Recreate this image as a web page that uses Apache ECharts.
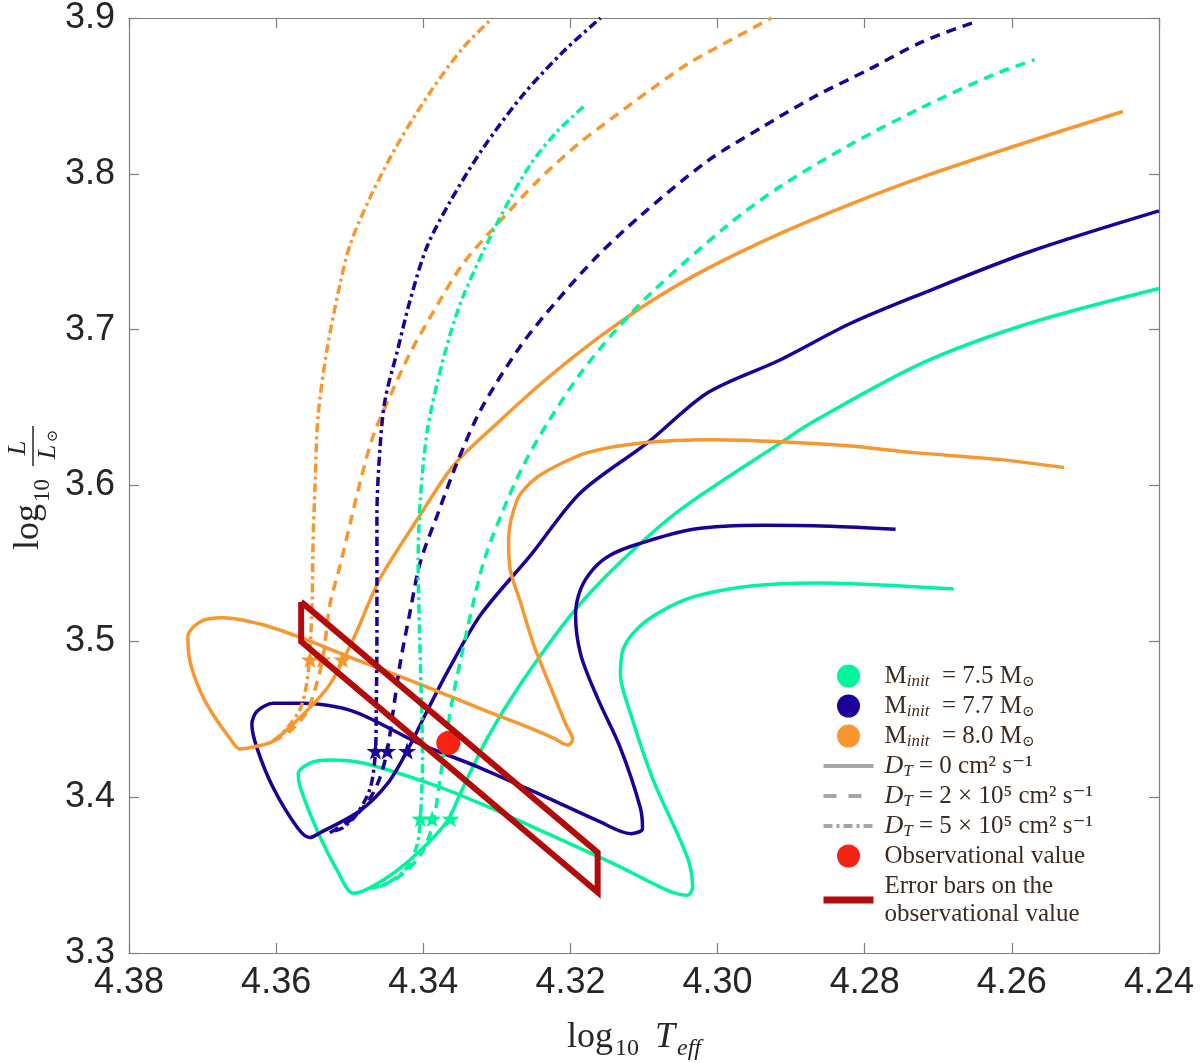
<!DOCTYPE html>
<html>
<head>
<meta charset="utf-8">
<script src="https://cdn.jsdelivr.net/npm/echarts/dist/echarts.min.js"></script>
<style>
html, body { margin: 0; padding: 0; background: #fff; }
#chart { width: 1200px; height: 1063px; }
</style>
</head>
<body>
<div id="chart"></div>
<script>
// tracks: [log10 Teff, log10 L/Lsun]
var g_dt0 = [[4.2679,3.5336],[4.2778,3.5362],[4.2864,3.5375],[4.2955,3.5355],[4.3033,3.5285],[4.3078,3.5189],
  [4.3109,3.5081],[4.3128,3.4953],[4.3132,3.4787],[4.3118,3.4532],[4.3087,3.4104],[4.3041,3.3613],[4.3034,3.3421],
  [4.3041,3.3370],[4.3068,3.3402],[4.3142,3.3575],[4.3231,3.3766],[4.3322,3.3958],[4.3390,3.4085],[4.3482,3.4219],
  [4.3527,3.4238],[4.3554,3.4219],[4.3570,3.4149],[4.3567,3.4060],[4.3544,3.3785],[4.3517,3.3530],[4.3495,3.3383],
  [4.3449,3.3485],[4.3404,3.3658],[4.3367,3.3849],[4.3350,3.4021],[4.3313,3.4379],[4.3268,3.4724],[4.3196,3.5189],
  [4.3132,3.5509],[4.3050,3.5847],[4.2914,3.6275],[4.2868,3.6415],[4.2722,3.6785],[4.2576,3.7041],[4.2400,3.7264]];
var g_dt2 = [[4.3459,3.3428],[4.3441,3.3466],[4.3422,3.3530],[4.3400,3.3658],[4.3386,3.3849],[4.3377,3.4124],
  [4.3367,3.4443],[4.3359,3.4660],[4.3340,3.5081],[4.3318,3.5509],[4.3291,3.5847],[4.3264,3.6128],[4.3231,3.6402],
  [4.3186,3.6721],[4.3142,3.6977],[4.3091,3.7232],[4.2989,3.7660],[4.2916,3.7915],[4.2819,3.8189],[4.2722,3.8426],
  [4.2625,3.8636],[4.2569,3.8732]];
var g_dt5 = [[4.3472,3.3415],[4.3449,3.3447],[4.3422,3.3549],[4.3408,3.3702],[4.3404,3.3862],[4.3401,3.4232],
  [4.3404,3.4870],[4.3407,3.5509],[4.3404,3.5911],[4.3395,3.6338],[4.3381,3.6658],[4.3363,3.6977],[4.3346,3.7213],
  [4.3318,3.7506],[4.3291,3.7762],[4.3254,3.8062],[4.3218,3.8272],[4.3182,3.8432]];

var b_dt0 = [[4.2758,3.5719],[4.2846,3.5738],[4.2937,3.5745],[4.3033,3.5719],[4.3109,3.5623],[4.3146,3.5553],
  [4.3169,3.5464],[4.3186,3.5336],[4.3193,3.5170],[4.3186,3.4915],[4.3163,3.4634],[4.3132,3.4315],[4.3105,3.3932],
  [4.3102,3.3798],[4.3118,3.3766],[4.3163,3.3849],[4.3231,3.3996],[4.3322,3.4187],[4.3404,3.4341],[4.3495,3.4551],
  [4.3563,3.4602],[4.3604,3.4602],[4.3626,3.4551],[4.3633,3.4468],[4.3626,3.4315],[4.3604,3.4060],[4.3571,3.3804],
  [4.3554,3.3741],[4.3540,3.3772],[4.3486,3.3913],[4.3449,3.4085],[4.3422,3.4296],[4.3395,3.4551],[4.3367,3.4806],
  [4.3322,3.5170],[4.3254,3.5553],[4.3186,3.5955],[4.3095,3.6275],[4.3014,3.6594],[4.2916,3.6804],[4.2819,3.7041],
  [4.2722,3.7232],[4.2576,3.7500],[4.2400,3.7762]];
var b_dt2 = [[4.3527,3.3772],[4.3495,3.3868],[4.3472,3.3996],[4.3459,3.4124],[4.3449,3.4296],[4.3441,3.4551],
  [4.3431,3.4870],[4.3418,3.5189],[4.3404,3.5509],[4.3381,3.5809],[4.3354,3.6147],[4.3322,3.6485],[4.3268,3.6894],
  [4.3218,3.7187],[4.3163,3.7474],[4.3105,3.7730],[4.3014,3.8081],[4.2940,3.8298],[4.2868,3.8496],[4.2795,3.8668],
  [4.2722,3.8847],[4.2654,3.8968]];
var b_dt5 = [[4.3520,3.3785],[4.3509,3.3804],[4.3490,3.3894],[4.3472,3.4060],[4.3465,3.4296],[4.3464,3.4532],
  [4.3463,3.5062],[4.3463,3.5381],[4.3463,3.5809],[4.3459,3.6230],[4.3452,3.6549],[4.3435,3.6868],[4.3418,3.7187],
  [4.3395,3.7532],[4.3363,3.7826],[4.3318,3.8170],[4.3264,3.8509],[4.3210,3.8783],[4.3159,3.9000]];

var o_dt0 = [[4.2529,3.6115],[4.2615,3.6166],[4.2733,3.6211],[4.2823,3.6255],[4.2914,3.6281],[4.3005,3.6294],
  [4.3101,3.6275],[4.3177,3.6211],[4.3231,3.6096],[4.3254,3.6019],[4.3272,3.5911],[4.3284,3.5655],[4.3282,3.5464],
  [4.3268,3.5253],[4.3250,3.4979],[4.3223,3.4660],[4.3205,3.4455],[4.3197,3.4372],[4.3203,3.4334],[4.3223,3.4379],
  [4.3268,3.4468],[4.3313,3.4551],[4.3404,3.4724],[4.3495,3.4889],[4.3563,3.5017],[4.3618,3.5106],[4.3672,3.5151],
  [4.3703,3.5126],[4.3720,3.5030],[4.3717,3.4870],[4.3703,3.4679],[4.3686,3.4532],[4.3665,3.4392],[4.3649,3.4309],
  [4.3625,3.4328],[4.3604,3.4360],[4.3563,3.4532],[4.3527,3.4724],[4.3495,3.5017],[4.3459,3.5400],[4.3408,3.5783],
  [4.3359,3.6128],[4.3299,3.6402],[4.3231,3.6690],[4.3159,3.6958],[4.3091,3.7181],[4.3014,3.7392],[4.2916,3.7615],
  [4.2819,3.7806],[4.2722,3.7979],[4.2576,3.8209],[4.2449,3.8400]];
var o_dt2 = [[4.3604,3.4360],[4.3581,3.4424],[4.3558,3.4551],[4.3544,3.4743],[4.3536,3.4902],[4.3527,3.5234],
  [4.3513,3.5489],[4.3499,3.5764],[4.3486,3.6019],[4.3468,3.6319],[4.3445,3.6575],[4.3418,3.6849],[4.3390,3.7085],
  [4.3346,3.7423],[4.3299,3.7679],[4.3245,3.7953],[4.3190,3.8189],[4.3142,3.8362],[4.3091,3.8540],[4.3038,3.8713],
  [4.2974,3.8879],[4.2927,3.9000]];
var o_dt5 = [[4.3604,3.4360],[4.3585,3.4443],[4.3567,3.4570],[4.3558,3.4743],[4.3554,3.4953],[4.3551,3.5253],
  [4.3550,3.5592],[4.3547,3.6019],[4.3543,3.6447],[4.3531,3.6868],[4.3513,3.7296],[4.3499,3.7551],[4.3472,3.7851],
  [4.3435,3.8189],[4.3390,3.8528],[4.3346,3.8809],[4.3306,3.9000]];

// stars where each track crosses the observed luminosity band
var g_stars = [[4.3404,3.3862],[4.3388,3.3862],[4.3363,3.3862]];
var b_stars = [[4.3465,3.4296],[4.3449,3.4296],[4.3422,3.4296]];
var o_stars = [[4.3554,3.4883],[4.3537,3.4883],[4.3510,3.4883]];

var obsPoint = [[4.3366,3.4347]];
var errBox = [[4.3566,3.5253],[4.3163,3.3645],[4.3163,3.3390],[4.3566,3.4998],[4.3566,3.5253]];

var xTicks = [4.24, 4.38, 0.02];
var yTicks = [3.3, 3.9, 0.1];

var GREEN = '#00F59B', BLUE = '#1E0096', ORANGE = '#F8962F', GREY = '#A6A6A6';
var DASH = [10, 7], DASHDOT = [9, 4, 3, 4];
var STAR = 'path://M0,-10L2.35,-3.24L9.51,-3.09L3.8,1.24L5.88,8.09L0,4L-5.88,8.09L-3.8,1.24L-9.51,-3.09L-2.35,-3.24Z';
var SERIF = "'Liberation Serif', 'DejaVu Serif', serif";
var SANS = "'Liberation Sans', Arial, sans-serif";
var TXT = '#3d2b1f';

function track(data, color, dash) {
    return {
        type: 'line', data: data, symbol: 'none', smooth: 0.3, silent: true, z: 2,
        lineStyle: { color: color, width: 3.5, type: dash }
    };
}
function stars(data, color) {
    return {
        type: 'scatter', data: data, symbol: STAR, symbolSize: [18, 17], silent: true, z: 4,
        itemStyle: { color: color, opacity: 1 }
    };
}
function legendOnly(name, type, color, dash) {
    var s = { name: name, type: type, data: [], symbol: type === 'line' ? 'none' : 'circle',
        itemStyle: { color: color, opacity: 1 } };
    if (type === 'line') s.lineStyle = { color: color, width: 3.5, type: dash };
    return s;
}

var legendText = {
    M75: 'M{sub|init}  = 7.5 M{sub2|⊙}',
    M77: 'M{sub|init}  = 7.7 M{sub2|⊙}',
    M80: 'M{sub|init}  = 8.0 M{sub2|⊙}',
    D0: '{it|D}{sub|T} = 0 cm² s⁻¹',
    D2: '{it|D}{sub|T} = 2 × 10⁵ cm² s⁻¹',
    D5: '{it|D}{sub|T} = 5 × 10⁵ cm² s⁻¹',
    Obs: 'Observational value',
    Err: 'Error bars on the\nobservational value'
};
var noSymbol = { color: 'rgba(0,0,0,0)', opacity: 0, borderWidth: 0 };

var myChart = echarts.init(document.getElementById('chart'));

var axisCommon = {
    type: 'value',
    splitLine: { show: false },
    axisLine: { lineStyle: { color: '#7f7f7f', width: 1.2 } },
    axisTick: { inside: true, length: 10, lineStyle: { color: '#7f7f7f', width: 1.2 } }
};

var option = {
    animation: false,
    backgroundColor: '#fff',
    grid: { left: 129, right: 41, top: 13, bottom: 110 },
    xAxis: [
        Object.assign({}, axisCommon, {
            position: 'bottom', inverse: true,
            min: xTicks[0], max: xTicks[1], interval: xTicks[2],
            axisLabel: { fontFamily: SANS, fontSize: 36, color: '#262626', margin: 12,
                formatter: function (v) { return v.toFixed(2); } }
        }),
        Object.assign({}, axisCommon, {
            position: 'top', inverse: true,
            min: xTicks[0], max: xTicks[1], interval: xTicks[2],
            axisLabel: { show: false }
        })
    ],
    yAxis: [
        Object.assign({}, axisCommon, {
            position: 'left',
            min: yTicks[0], max: yTicks[1], interval: yTicks[2],
            axisLabel: { fontFamily: SANS, fontSize: 36, color: '#262626', margin: 14,
                formatter: function (v) { return v.toFixed(1); } }
        }),
        Object.assign({}, axisCommon, {
            position: 'right',
            min: yTicks[0], max: yTicks[1], interval: yTicks[2],
            axisLabel: { show: false }
        })
    ],
    legend: {
        orient: 'vertical', left: 815, top: 657,
        itemWidth: 50, itemHeight: 23, itemGap: 2,
        selectedMode: false,
        data: [
            { name: 'M75', icon: 'circle' }, { name: 'M77', icon: 'circle' }, { name: 'M80', icon: 'circle' },
            { name: 'D0', itemStyle: noSymbol, lineStyle: { width: 4, color: GREY, type: 'solid' } },
            { name: 'D2', itemStyle: noSymbol, lineStyle: { width: 4, color: GREY, type: [13, 12] } },
            { name: 'D5', itemStyle: noSymbol, lineStyle: { width: 4, color: GREY, type: [9, 4, 3, 4] } },
            { name: 'Obs', icon: 'circle' },
            { name: 'Err', itemStyle: noSymbol, lineStyle: { width: 7, color: '#B30A0A', type: 'solid' } }
        ],
        formatter: function (n) { return legendText[n]; },
        textStyle: {
            fontFamily: SERIF, fontSize: 25, color: TXT, lineHeight: 28, padding: [0, 0, 0, 6],
            rich: {
                sub: { fontFamily: SERIF, fontSize: 17, fontStyle: 'italic', color: TXT, verticalAlign: 'bottom', lineHeight: 18 },
                sub2: { fontFamily: "'DejaVu Serif', serif", fontSize: 15, color: TXT, verticalAlign: 'bottom', lineHeight: 17 },
                it: { fontFamily: SERIF, fontSize: 26, fontStyle: 'italic', color: TXT }
            }
        }
    },
    graphic: [
        {
            type: 'group', left: 567, top: 1020,
            children: [
                { type: 'text', x: 0, y: 0, style: { text: 'log', font: '36px ' + SERIF, fill: '#262626' } },
                { type: 'text', x: 48, y: 17, style: { text: '10', font: '24px ' + SERIF, fill: '#262626' } },
                { type: 'text', x: 88, y: 0, style: { text: 'T', font: 'italic 36px ' + SERIF, fill: '#262626' } },
                { type: 'text', x: 110, y: 17, style: { text: 'eff', font: 'italic 24px ' + SERIF, fill: '#262626' } }
            ]
        },
        {
            type: 'group', x: 33, y: 550, rotation: Math.PI / 2,
            children: [
                { type: 'text', x: 0, y: -4, style: { text: 'log', font: '36px ' + SERIF, fill: '#262626', verticalAlign: 'middle' } },
                { type: 'text', x: 48, y: 10, style: { text: '10', font: '23px ' + SERIF, fill: '#262626', verticalAlign: 'middle' } },
                { type: 'text', x: 102, y: -15, style: { text: 'L', font: 'italic 26px ' + SERIF, fill: '#262626', align: 'center', verticalAlign: 'middle' } },
                { type: 'line', shape: { x1: 84, y1: 0, x2: 124, y2: 0 }, style: { stroke: '#262626', lineWidth: 1.5 } },
                { type: 'text', x: 98, y: 15, style: { text: 'L', font: 'italic 26px ' + SERIF, fill: '#262626', align: 'center', verticalAlign: 'middle' } },
                { type: 'text', x: 114, y: 20, style: { text: '⊙', font: '15px DejaVu Serif', fill: '#262626', align: 'center', verticalAlign: 'middle' } }
            ]
        }
    ],
    series: [
        legendOnly('M75', 'scatter', GREEN),
        legendOnly('M77', 'scatter', BLUE),
        legendOnly('M80', 'scatter', ORANGE),
        legendOnly('D0', 'line', GREY, 'solid'),
        legendOnly('D2', 'line', GREY, DASH),
        legendOnly('D5', 'line', GREY, DASHDOT),

        track(g_dt0, GREEN, 'solid'),
        track(b_dt0, BLUE, 'solid'),
        track(o_dt0, ORANGE, 'solid'),
        track(g_dt2, GREEN, DASH),
        track(b_dt2, BLUE, DASH),
        track(o_dt2, ORANGE, DASH),
        track(g_dt5, GREEN, DASHDOT),
        track(b_dt5, BLUE, DASHDOT),
        track(o_dt5, ORANGE, DASHDOT),

        stars(g_stars, GREEN),
        stars(b_stars, BLUE),
        stars(o_stars, ORANGE),

        {
            name: 'Obs', type: 'scatter', data: obsPoint, symbol: 'circle', symbolSize: 24, z: 5,
            itemStyle: { color: '#F52314', opacity: 1 }
        },
        {
            name: 'Err', type: 'line', data: errBox, symbol: 'none', z: 6,
            lineStyle: { color: '#B30A0A', width: 6, join: 'miter' },
            itemStyle: { color: '#B30A0A' }
        }
    ]
};
myChart.setOption(option);
</script>
</body>
</html>
